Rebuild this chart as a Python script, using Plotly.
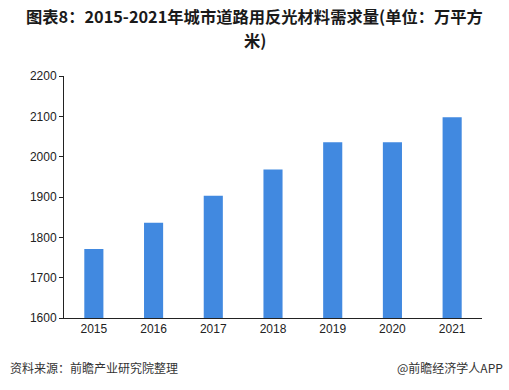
import plotly.graph_objects as go

years = ["2015", "2016", "2017", "2018", "2019", "2020", "2021"]
demand = [1771, 1836, 1903, 1968, 2036, 2036, 2098]
y_ticks = [1600, 1700, 1800, 1900, 2000, 2100, 2200]

title_line1 = "图表8：2015-2021年城市道路用反光材料需求量(单位：万平方"
title_line2 = "米)"
source_text = "资料来源：前瞻产业研究院整理"
brand_text = "@前瞻经济学人APP"

font_cjk = "Noto Sans CJK SC, Liberation Sans, sans-serif"
font_num = "Liberation Sans, Arial, sans-serif"

W, H = 509, 390
L, R, T, B = 64, 27, 76, 72
pw, ph = W - L - R, H - T - B


def px_x(x):
    return (x - L) / pw


def px_y(y):
    return (H - B - y) / ph


fig = go.Figure()
fig.add_trace(go.Bar(
    x=years, y=demand,
    marker=dict(color="#4189E0", line=dict(width=0)),
    width=0.32,
))

fig.update_layout(
    width=W, height=H,
    margin=dict(l=L, r=R, t=T, b=B),
    paper_bgcolor="white", plot_bgcolor="white",
    showlegend=False,
    xaxis=dict(
        type="category", range=[-0.5, 6.5],
        showline=True, linecolor="#222222", linewidth=1,
        ticks="", showgrid=False,
        tickfont=dict(family=font_num, size=12, color="#222222"),
    ),
    yaxis=dict(
        range=[1600, 2200], tickvals=y_ticks,
        showline=True, linecolor="#222222", linewidth=1,
        ticks="outside", ticklen=4, tickcolor="#222222",
        showgrid=False, zeroline=False,
        tickfont=dict(family=font_num, size=12, color="#222222"),
    ),
    font=dict(family=font_cjk),
)

for txt, yc in [(title_line1, 16), (title_line2, 40)]:
    fig.add_annotation(text="<b>" + txt + "</b>", xref="paper", yref="paper",
                       x=px_x(254.5), y=px_y(yc), xanchor="center", yanchor="middle",
                       showarrow=False,
                       font=dict(family=font_cjk, size=16.3, color="#1a1a1a"))

fig.add_annotation(text=source_text, xref="paper", yref="paper",
                   x=px_x(8), y=px_y(367), xanchor="left", yanchor="middle",
                   showarrow=False,
                   font=dict(family=font_cjk, size=12, color="#333333"))
fig.add_annotation(text=brand_text, xref="paper", yref="paper",
                   x=px_x(505), y=px_y(367), xanchor="right", yanchor="middle",
                   showarrow=False,
                   font=dict(family=font_cjk, size=12, color="#333333"))

fig.write_html("out.html", config={"displayModeBar": False},
               post_script="document.body.style.margin='0';")
